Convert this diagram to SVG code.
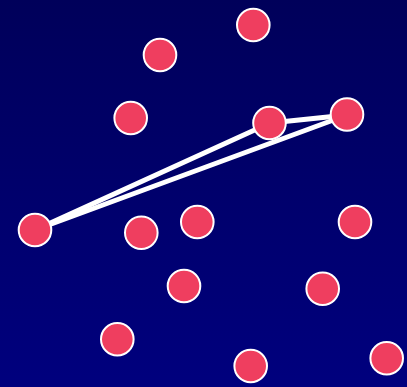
<svg xmlns="http://www.w3.org/2000/svg" width="407" height="387" viewBox="0 0 407 387">
<defs>
<linearGradient id="bg" x1="0" y1="0" x2="0" y2="1">
<stop offset="0" stop-color="#00005a"/>
<stop offset="1" stop-color="#00007e"/>
</linearGradient>
<style>
.n{fill:#ef3e5f;stroke:#ffffff;stroke-width:2}
.e{stroke:#ffffff;stroke-width:5;stroke-linecap:round;fill:none}
</style>
</defs>
<rect width="407" height="387" fill="url(#bg)"/>
<g id="connectors">
<line class="e" x1="35" y1="230" x2="270" y2="123"/>
<line class="e" x1="35" y1="230" x2="347" y2="115"/>
<line class="e" x1="270" y1="123" x2="347" y2="115"/>
</g>
<g id="n1"><circle class="n" cx="253.3" cy="25" r="16.3"/></g>
<g id="n2"><circle class="n" cx="160" cy="55" r="16.3"/></g>
<g id="n3"><circle class="n" cx="130.7" cy="118" r="16.3"/></g>
<g id="n4"><circle class="n" cx="269.5" cy="123" r="16.3"/></g>
<g id="n5"><circle class="n" cx="347" cy="114.5" r="16.3"/></g>
<g id="n6"><circle class="n" cx="35" cy="230" r="16.3"/></g>
<g id="n7"><circle class="n" cx="141.3" cy="232.7" r="16.3"/></g>
<g id="n8"><circle class="n" cx="197.3" cy="222" r="16.3"/></g>
<g id="n9"><circle class="n" cx="355" cy="222" r="16.3"/></g>
<g id="n10"><circle class="n" cx="184" cy="286" r="16.3"/></g>
<g id="n11"><circle class="n" cx="322.7" cy="288.7" r="16.3"/></g>
<g id="n12"><circle class="n" cx="117.3" cy="339.3" r="16.3"/></g>
<g id="n13"><circle class="n" cx="250.7" cy="366" r="16.3"/></g>
<g id="n14"><circle class="n" cx="386.7" cy="358.3" r="16.3"/></g>
</svg>
